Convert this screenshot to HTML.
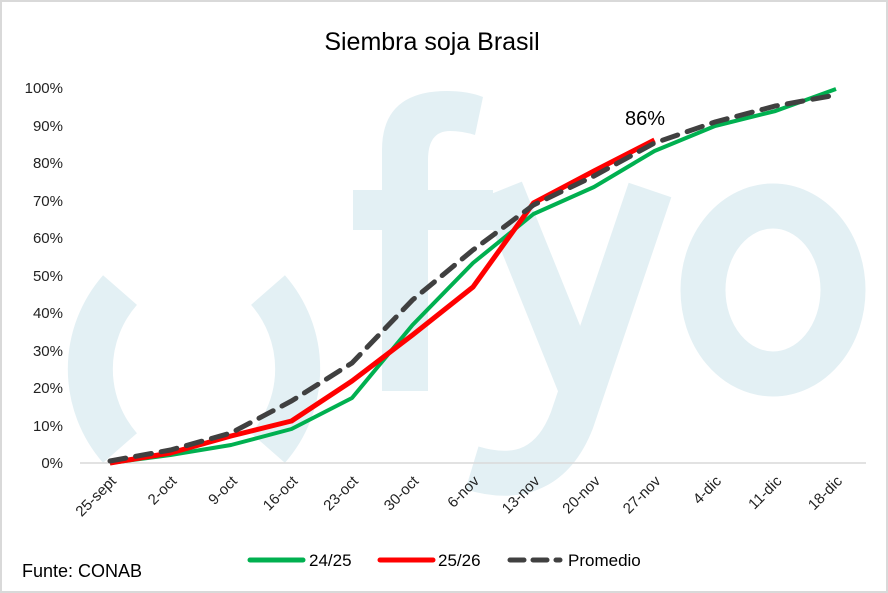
<!DOCTYPE html>
<html><head><meta charset="utf-8"><style>
html,body{margin:0;padding:0;background:#fff;}
svg{display:block;font-family:"Liberation Sans",sans-serif;}
</style></head><body>
<svg width="888" height="593" viewBox="0 0 888 593" xmlns="http://www.w3.org/2000/svg">
<rect x="1" y="1" width="886" height="591" fill="#fff" stroke="#d9d9d9" stroke-width="2"/>
<!-- watermark -->
<g fill="none" stroke="#e3f0f4" stroke-width="45">
<path d="M120 290 A120 120 0 0 0 120 448"/>
<path d="M268 290 A120 120 0 0 1 268 448"/>
<line x1="501" y1="190" x2="585" y2="398"/>
<path d="M650 190 L572 420 Q545 490 472 468"/>
<ellipse cx="773" cy="290" rx="70" ry="84"/>
</g>
<g fill="#e3f0f4">
<path d="M382 391 V150 Q382 91 447 91 Q468 91 483 97 L475 135 Q462 131 450 131 Q428 131 428 160 V391 Z"/>
<rect x="353" y="190" width="140" height="40"/>
</g>
<text x="432" y="50" font-size="25" text-anchor="middle" fill="#000">Siembra soja Brasil</text>
<g font-size="15" fill="#222" text-anchor="end">
<text x="63" y="468">0%</text><text x="63" y="431">10%</text><text x="63" y="393">20%</text><text x="63" y="356">30%</text><text x="63" y="318">40%</text><text x="63" y="281">50%</text><text x="63" y="243">60%</text><text x="63" y="206">70%</text><text x="63" y="168">80%</text><text x="63" y="131">90%</text><text x="63" y="93">100%</text>
</g>
<line x1="80" y1="463" x2="866" y2="463" stroke="#d9d9d9" stroke-width="1.5"/>
<g font-size="15" fill="#222" text-anchor="end">
<text transform="translate(117,482) rotate(-45)">25-sept</text>
<text transform="translate(177.5,482) rotate(-45)">2-oct</text>
<text transform="translate(238,482) rotate(-45)">9-oct</text>
<text transform="translate(298.5,482) rotate(-45)">16-oct</text>
<text transform="translate(359,482) rotate(-45)">23-oct</text>
<text transform="translate(419.5,482) rotate(-45)">30-oct</text>
<text transform="translate(480,482) rotate(-45)">6-nov</text>
<text transform="translate(540.5,482) rotate(-45)">13-nov</text>
<text transform="translate(601,482) rotate(-45)">20-nov</text>
<text transform="translate(661.5,482) rotate(-45)">27-nov</text>
<text transform="translate(722,482) rotate(-45)">4-dic</text>
<text transform="translate(782.5,482) rotate(-45)">11-dic</text>
<text transform="translate(843,482) rotate(-45)">18-dic</text>
</g>
<polyline fill="none" stroke="#00b050" stroke-width="4" stroke-linejoin="round" points="110,463 170.5,455 231,445 291.5,429 352,398 412.5,325 473,263 533.5,214 594,187 654.5,151 715,126 775.5,111 836,89"/>
<polyline fill="none" stroke="#ff0000" stroke-width="5" stroke-linejoin="round" points="110,463 170.5,453 231,436 291.5,421 352,381 412.5,335 473,287 533.5,203 594,171 654.5,140"/>
<polyline fill="none" stroke="#404040" stroke-width="5" stroke-dasharray="16,10" stroke-linecap="round" points="110,461 170.5,450 231,433 291.5,401 352,363 412.5,300 473,250 533.5,205 594,176 654.5,143 715,122 775.5,106 836,95"/>
<text x="645" y="125" font-size="20" text-anchor="middle" fill="#000">86%</text>
<line x1="250" y1="560" x2="303" y2="560" stroke="#00b050" stroke-width="5" stroke-linecap="round"/>
<text x="309" y="566" font-size="17" fill="#000">24/25</text>
<line x1="380" y1="560" x2="433" y2="560" stroke="#ff0000" stroke-width="5" stroke-linecap="round"/>
<text x="438" y="566" font-size="17" fill="#000">25/26</text>
<line x1="510" y1="560" x2="560" y2="560" stroke="#404040" stroke-width="5" stroke-dasharray="14,9" stroke-linecap="round"/>
<text x="568" y="566" font-size="17" fill="#000">Promedio</text>
<text x="22" y="577" font-size="18" fill="#000">Funte: CONAB</text>
</svg>
</body></html>
